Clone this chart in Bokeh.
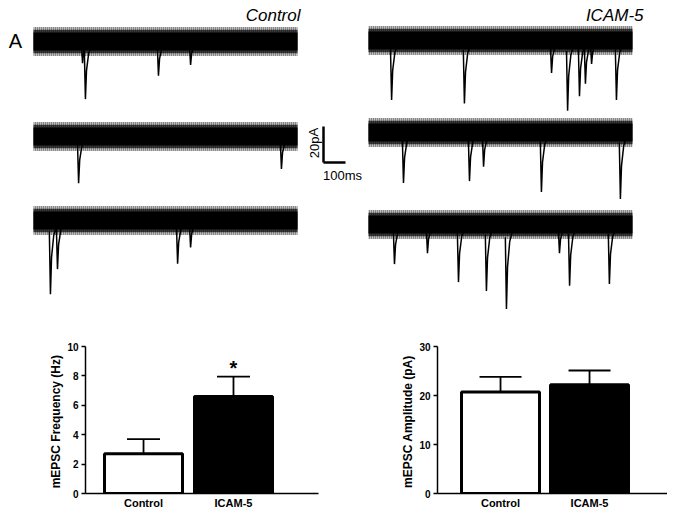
from bokeh.plotting import figure
from bokeh.layouts import column, row
from bokeh.models import Range1d, Label, FixedTicker
from bokeh.embed import file_html
from bokeh.resources import INLINE

FONT = "Liberation Sans"

# ---------------- data ----------------
sweep_ms = 1200
noise_core_pa = 5
noise_mid_pa = 6.5
noise_fringe_pa = 8

# event times (ms from sweep start) and amplitudes (pA, inward)
ctrl1_t = [223, 236, 568, 714]
ctrl1_a = [12, 32, 19, 13]
ctrl2_t = [205, 1127]
ctrl2_a = [26, 18]
ctrl3_t = [77, 109, 655, 714]
ctrl3_a = [41, 27, 24, 15]

icam1_t = [105, 436, 832, 905, 959, 986, 1014, 1127]
icam1_a = [33, 35, 18, 39, 31, 24, 13, 33]
icam2_t = [159, 459, 523, 786, 1145]
icam2_a = [28, 27, 19, 33, 37]
icam3_t = [118, 268, 409, 536, 627, 868, 914, 1095]
icam3_a = [22, 16, 32, 37, 47, 16, 34, 33]

scale_ms = 100
scale_pa = 20

groups = ["Control", "ICAM-5"]
freq_mean = [2.7, 6.6]
freq_sem = [1.0, 1.35]
amp_mean = [20.7, 22.2]
amp_sem = [3.1, 2.9]
freq_ticks = [0, 2, 4, 6, 8, 10]
amp_ticks = [0, 10, 20, 30]

# ---------------- traces panel ----------------
PX_MS = 0.22
PX_PA = 1.8
W = 667
TOP_H = 312
BOT_H = 511 - TOP_H


def X(px):
    return px / PX_MS


def Y(py):
    return -py / PX_PA


top = figure(width=W, height=TOP_H, x_range=Range1d(0, X(W)),
             y_range=Range1d(Y(TOP_H), 0), output_backend="svg",
             toolbar_location=None, x_axis_type=None, y_axis_type=None,
             min_border=0)
top.outline_line_color = None
top.background_fill_color = "white"

left_x0 = X(33)
right_x0 = X(368)
rows = [
    (left_x0, Y(41), ctrl1_t, ctrl1_a),
    (left_x0, Y(136), ctrl2_t, ctrl2_a),
    (left_x0, Y(220), ctrl3_t, ctrl3_a),
    (right_x0, Y(40), icam1_t, icam1_a),
    (right_x0, Y(132), icam2_t, icam2_a),
    (right_x0, Y(224), icam3_t, icam3_a),
]

dx_tmpl = [-5, 0, 5, 15, 35]
fy_tmpl = [0.15, 1.0, 0.5, 0.2, 0.0]

for x0, base, ts, amps in rows:
    # spiky outer edges of the noise
    top.quad(left=[x0], right=[x0 + sweep_ms],
             bottom=[base - noise_fringe_pa], top=[base + noise_fringe_pa],
             fill_color="black", fill_alpha=0.25, line_color=None,
             hatch_pattern="vertical_line", hatch_scale=2,
             hatch_weight=1.0, hatch_color="black", hatch_alpha=0.6)
    top.quad(left=[x0], right=[x0 + sweep_ms],
             bottom=[base - noise_mid_pa], top=[base + noise_mid_pa],
             fill_color="black", fill_alpha=0.7, line_color=None)
    # dense core of the noise
    top.quad(left=[x0], right=[x0 + sweep_ms],
             bottom=[base - noise_core_pa], top=[base + noise_core_pa],
             fill_color="black", line_color=None)
    xs, ys = [], []
    for t, a in zip(ts, amps):
        xs.append([x0 + t + d for d in dx_tmpl])
        ys.append([base - a * f for f in fy_tmpl])
    top.multi_line(xs=xs, ys=ys, line_color="black", line_width=1.5)

# scale bar
sb_x, sb_y = X(323), Y(162)
top.segment(x0=[sb_x, sb_x], y0=[sb_y, sb_y],
            x1=[sb_x, sb_x + scale_ms], y1=[sb_y + scale_pa, sb_y],
            line_color="black", line_width=2.5)
top.add_layout(Label(x=X(313.5), y=Y(142.5), text=f"{scale_pa}pA",
                     angle=1.5708, text_align="center", text_baseline="middle",
                     text_font=FONT, text_font_size="13px", text_color="black"))
top.add_layout(Label(x=X(342), y=Y(175), text=f"{scale_ms}ms",
                     text_align="center", text_baseline="middle",
                     text_font=FONT, text_font_size="13px", text_color="black"))

top.add_layout(Label(x=X(15), y=Y(40), text="A", text_align="center",
                     text_baseline="middle", text_font=FONT,
                     text_font_size="20px", text_color="black"))
top.add_layout(Label(x=X(300), y=Y(15), text=groups[0], text_align="right",
                     text_baseline="middle", text_font=FONT,
                     text_font_size="17px", text_font_style="italic",
                     text_color="black"))
top.add_layout(Label(x=X(643), y=Y(15), text=groups[1], text_align="right",
                     text_baseline="middle", text_font=FONT,
                     text_font_size="17px", text_font_style="italic",
                     text_color="black"))


# ---------------- bar panels ----------------
def bar_fig(width, b_left, b_right, b_top, b_bottom, xr, ymax, ticks, means,
            sems, bw, capw, ylabel, letter, letter_xy):
    p = figure(width=width, height=BOT_H, x_range=Range1d(*xr),
               y_range=Range1d(0, ymax), output_backend="svg",
               toolbar_location=None, min_border_left=b_left,
               min_border_right=b_right, min_border_top=b_top,
               min_border_bottom=b_bottom)
    p.outline_line_color = None
    p.grid.visible = False
    pos = [i + 1 for i in range(len(groups))]
    tops = [m + s for m, s in zip(means, sems)]
    p.segment(x0=pos, y0=means, x1=pos, y1=tops, line_color="black",
              line_width=1.8)
    p.segment(x0=[x - capw for x in pos], y0=tops,
              x1=[x + capw for x in pos], y1=tops, line_color="black",
              line_width=1.8)
    p.vbar(x=pos, width=bw, bottom=0, top=means,
           fill_color=["white", "black"], line_color="black", line_width=3)

    xa = p.xaxis[0]
    xa.ticker = FixedTicker(ticks=pos)
    xa.major_label_overrides = {x: g for x, g in zip(pos, groups)}
    xa.major_tick_out = 0
    xa.major_tick_in = 0
    xa.minor_tick_out = 0
    xa.minor_tick_in = 0
    xa.axis_line_width = 1.5
    xa.axis_line_color = "black"
    xa.major_label_text_font = FONT
    xa.major_label_text_font_style = "bold"
    xa.major_label_text_font_size = "11px"
    xa.major_label_text_color = "black"
    xa.major_label_standoff = 3

    ya = p.yaxis[0]
    ya.ticker = FixedTicker(ticks=ticks)
    ya.major_tick_out = 4
    ya.major_tick_in = 0
    ya.minor_tick_out = 0
    ya.minor_tick_in = 0
    ya.major_tick_line_width = 1.5
    ya.axis_line_width = 1.5
    ya.axis_line_color = "black"
    ya.major_tick_line_color = "black"
    ya.major_label_text_font = FONT
    ya.major_label_text_font_style = "bold"
    ya.major_label_text_font_size = "10px"
    ya.major_label_text_color = "black"
    ya.major_label_standoff = 3
    ya.axis_label = ylabel
    ya.axis_label_text_font = FONT
    ya.axis_label_text_font_style = "bold"
    ya.axis_label_text_font_size = "12px"
    ya.axis_label_text_color = "black"
    ya.axis_label_standoff = 1

    p.add_layout(Label(x=letter_xy[0], y=letter_xy[1], text=letter,
                       text_align="center", text_baseline="middle",
                       text_font=FONT, text_font_size="21px",
                       text_color="black"))
    return p


# Panel B: frame x 85..318, y 342..495 (picture pixels)
xrB = (0.355, 2.945)
pxB = (318 - 85) / (xrB[1] - xrB[0])
pyB = (495 - 342) / 10.0
pB = bar_fig(333, 85, 333 - 318, 342 - TOP_H, 511 - 495, xrB, 10,
             freq_ticks, freq_mean, freq_sem, 78 / pxB, 16.5 / pxB,
             "mEPSC Frequency  (Hz)", "B",
             (xrB[0] + (15 - 85) / pxB, 10 + (342 - 323) / pyB))
pB.add_layout(Label(x=2, y=freq_mean[1] + freq_sem[1] + 9 / pyB, text="*",
                    text_align="center", text_baseline="middle",
                    text_font=FONT, text_font_size="20px",
                    text_font_style="bold", text_color="black"))

# Panel C: frame x 437..667, y 346..495
C_X0 = 333
xrC = (0.292, 2.876)
pxC = (667 - 437) / (xrC[1] - xrC[0])
pyC = (495 - 346) / 30.0
pC = bar_fig(W - C_X0, 437 - C_X0, 0, 346 - TOP_H, 511 - 495, xrC, 30,
             amp_ticks, amp_mean, amp_sem, 78 / pxC, 21 / pxC,
             "mEPSC Amplitude  (pA)", "C",
             (xrC[0] + (349 - 437) / pxC, 30 + (346 - 323) / pyC))

layout = column(top, row(pB, pC))

open("out.html", "w").write(file_html(layout, INLINE))
